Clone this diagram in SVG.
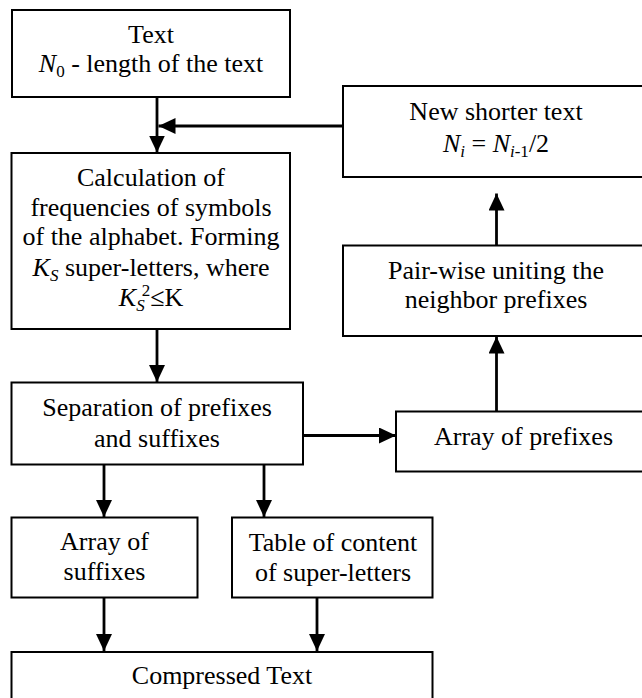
<svg xmlns="http://www.w3.org/2000/svg" width="642" height="698" viewBox="0 0 642 698">
<style>
.box{fill:#fff;stroke:#000;stroke-width:2}
.t{font-family:'Liberation Serif','Times New Roman',Tinos,'DejaVu Serif',serif;font-size:26px;fill:#000;text-anchor:middle}
.i{font-style:italic}
.sub{font-size:17px}
.c{stroke:#000;stroke-width:2.8;fill:none;marker-end:url(#ah)}
</style>
<defs>
<marker id="ah" markerUnits="userSpaceOnUse" markerWidth="17" markerHeight="16" refX="17" refY="8" orient="auto" viewBox="0 0 17 16">
<path d="M0,0 L17,8 L0,16 z" fill="#000"/>
</marker>
</defs>
<rect width="642" height="698" fill="#fff"/>
<g id="connectors">
<line class="c" x1="157" y1="97" x2="157" y2="152.5"/>
<line class="c" x1="343" y1="126" x2="158.5" y2="126"/>
<line class="c" x1="157" y1="329" x2="157" y2="382"/>
<line class="c" x1="303" y1="435.5" x2="396" y2="435.5"/>
<line class="c" x1="496.5" y1="411" x2="496.5" y2="336.5"/>
<line class="c" x1="496.5" y1="245.5" x2="496.5" y2="193.5"/>
<line class="c" x1="104" y1="464" x2="104" y2="517"/>
<line class="c" x1="264" y1="464" x2="264" y2="517"/>
<line class="c" x1="104" y1="597.5" x2="104" y2="651"/>
<line class="c" x1="317" y1="597.5" x2="317" y2="651"/>
</g>
<g id="text-input">
<rect class="box" x="12" y="10" width="278" height="87"/>
<text class="t" x="151" y="43" font-family="Liberation Serif, serif">Text</text>
<text class="t" x="151" y="72" font-family="Liberation Serif, serif"><tspan class="i">N</tspan><tspan class="sub" dy="5">0</tspan><tspan dy="-5"> - length of the text</tspan></text>
</g>
<g id="calculation">
<rect class="box" x="11.5" y="153" width="278.5" height="176"/>
<text class="t" x="151" y="185.5">Calculation of</text>
<text class="t" x="151" y="215.5">frequencies of symbols</text>
<text class="t" x="151" y="245">of the alphabet. Forming</text>
<text class="t" x="151" y="276"><tspan class="i">K</tspan><tspan class="sub i" dy="5">S</tspan><tspan dy="-5"> super-letters, where</tspan></text>
<text class="t" x="151" y="306"><tspan class="i">K</tspan><tspan class="sub i" dy="5">S</tspan><tspan class="sub" dx="-3" dy="-15">2</tspan><tspan dy="10">≤K</tspan></text>
</g>
<g id="new-shorter-text">
<rect class="box" x="343" y="86" width="310" height="91"/>
<text class="t" x="496" y="120">New shorter text</text>
<text class="t" x="496" y="151.5"><tspan class="i">N</tspan><tspan class="sub i" dy="5">i</tspan><tspan dy="-5"> = </tspan><tspan class="i">N</tspan><tspan class="sub" dy="5"><tspan class="i">i</tspan>-1</tspan><tspan dy="-5">/2</tspan></text>
</g>
<g id="pair-wise">
<rect class="box" x="343" y="245.5" width="310" height="90.5"/>
<text class="t" x="496" y="279">Pair-wise uniting the</text>
<text class="t" x="496" y="308">neighbor prefixes</text>
</g>
<g id="separation">
<rect class="box" x="11.5" y="382.5" width="291.5" height="82"/>
<text class="t" x="157" y="415.5">Separation of prefixes</text>
<text class="t" x="157" y="446.5">and suffixes</text>
</g>
<g id="array-prefixes">
<rect class="box" x="396" y="411.5" width="257" height="60"/>
<text class="t" x="523.5" y="445">Array of prefixes</text>
</g>
<g id="array-suffixes">
<rect class="box" x="11.5" y="517.5" width="186" height="80"/>
<text class="t" x="104.5" y="550">Array of</text>
<text class="t" x="104.5" y="580">suffixes</text>
</g>
<g id="table-content">
<rect class="box" x="232" y="517.5" width="200.5" height="80"/>
<text class="t" x="333" y="551">Table of content</text>
<text class="t" x="333" y="581">of super-letters</text>
</g>
<g id="compressed">
<rect class="box" x="11.5" y="652" width="421" height="60"/>
<text class="t" x="222" y="683.5">Compressed Text</text>
</g>
</svg>
